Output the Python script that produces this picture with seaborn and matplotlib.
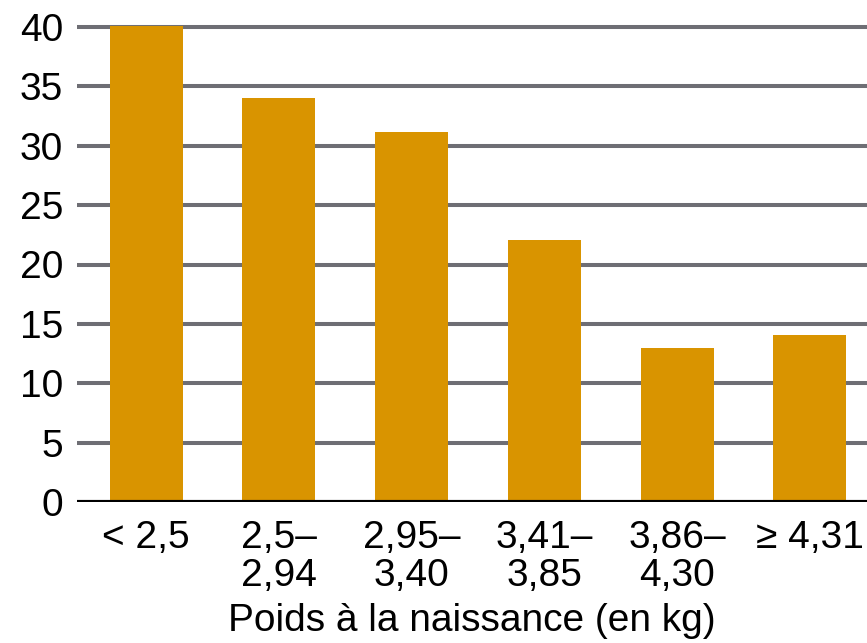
import matplotlib
matplotlib.use("Agg")
import matplotlib.pyplot as plt
import seaborn as sns
import pandas as pd

# data
categories = ["< 2,5", "2,5–\n2,94", "2,95–\n3,40", "3,41–\n3,85", "3,86–\n4,30", "≥ 4,31"]
values = [40.1, 34.0, 31.2, 22.1, 13.0, 14.1]
y_ticks = [0, 5, 10, 15, 20, 25, 30, 35, 40]

sns.set_theme(style="white")
plt.rcParams["font.family"] = ["Liberation Sans", "DejaVu Sans"]

df = pd.DataFrame({"cat": categories, "val": values})

fig = plt.figure(figsize=(8.67, 6.43), dpi=100)
ax = fig.add_axes([77 / 867, 141 / 643, 790 / 867, 498.75 / 643])

sns.barplot(data=df, x="cat", y="val", color="#D99400", saturation=1,
            width=0.55, linewidth=0, edgecolor="none", ax=ax, zorder=3)

ax.set_xlim(-0.52, 5.43)
ax.set_ylim(0, 42)
ax.set_yticks(y_ticks)
ax.set_yticklabels([str(t) for t in y_ticks])
for t in y_ticks[1:]:
    ax.axhline(t, color="#6E6E74", lw=2.9, zorder=1)
ax.axhline(0, color="black", lw=3, zorder=4)

for s in ax.spines.values():
    s.set_visible(False)
ax.tick_params(axis="both", length=0, labelsize=28, colors="black")
ax.tick_params(axis="y", pad=10)
ax.tick_params(axis="x", pad=13)
for lab in ax.get_xticklabels():
    lab.set_linespacing(1.08)
ax.set_ylabel("")
ax.set_xlabel("Poids à la naissance (en kg)", fontsize=28, color="black", labelpad=6)

fig.savefig("out.png", dpi=100)
